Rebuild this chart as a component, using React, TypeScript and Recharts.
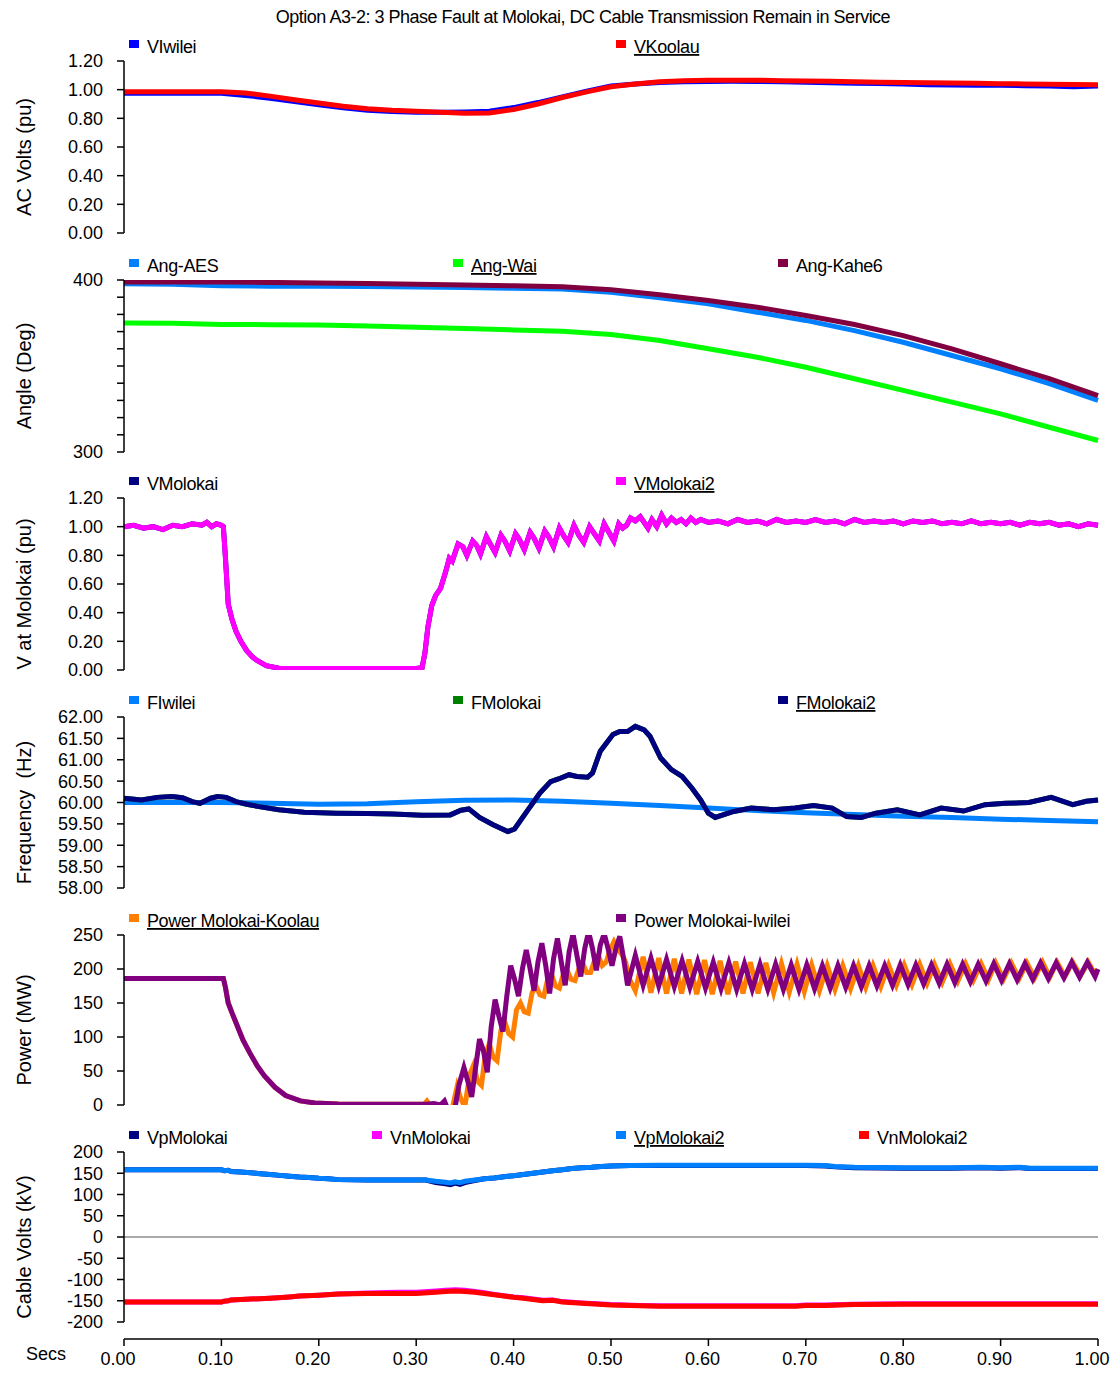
import React from 'react';
import { LineChart, Line, XAxis, YAxis, ReferenceLine } from 'recharts';

const FONT = '"Liberation Sans", Arial, Helvetica, sans-serif';
const W = 1113;
const H = 1373;
const PLOT_LEFT = 124;
const RIGHT_MARGIN = 15;

const TITLE = 'Option A3-2: 3 Phase Fault at Molokai, DC Cable Transmission Remain in Service';
const X_LABEL = 'Secs';

// ---------------- time grids / x ticks ----------------
const tQuarter = [0, 0.025, 0.05, 0.075, 0.1, 0.125, 0.15, 0.175, 0.2, 0.225, 0.25, 0.275, 0.3, 0.325, 0.35, 0.375, 0.4, 0.425, 0.45, 0.475, 0.5, 0.525, 0.55, 0.575, 0.6, 0.625, 0.65, 0.675, 0.7, 0.725, 0.75, 0.775, 0.8, 0.825, 0.85, 0.875, 0.9, 0.925, 0.95, 0.975, 1];
const tHalf = [0, 0.05, 0.1, 0.15, 0.2, 0.25, 0.3, 0.35, 0.4, 0.45, 0.5, 0.55, 0.6, 0.65, 0.7, 0.75, 0.8, 0.85, 0.9, 0.95, 1];
const xTicks = [0, 0.1, 0.2, 0.3, 0.4, 0.5, 0.6, 0.7, 0.8, 0.9, 1.0];

// ---------------- panel 1: AC volts ----------------
const acTicks = [0, 0.2, 0.4, 0.6, 0.8, 1.0, 1.2];
const vIwilei = [0.975, 0.975, 0.975, 0.975, 0.975, 0.96, 0.94, 0.918, 0.895, 0.873, 0.857, 0.848, 0.843, 0.843, 0.845, 0.85, 0.875, 0.91, 0.95, 0.99, 1.025, 1.04, 1.05, 1.055, 1.057, 1.058, 1.057, 1.055, 1.052, 1.048, 1.045, 1.043, 1.04, 1.035, 1.033, 1.03, 1.03, 1.028, 1.025, 1.02, 1.025];
const vKoolau = [0.985, 0.985, 0.985, 0.985, 0.985, 0.977, 0.955, 0.93, 0.907, 0.885, 0.867, 0.856, 0.849, 0.842, 0.835, 0.837, 0.862, 0.9, 0.945, 0.985, 1.02, 1.04, 1.055, 1.062, 1.065, 1.066, 1.066, 1.063, 1.06, 1.058, 1.055, 1.052, 1.05, 1.048, 1.046, 1.044, 1.042, 1.04, 1.038, 1.036, 1.035];

// ---------------- panel 2: angles ----------------
const angTicks = [300, 310, 320, 330, 340, 350, 360, 370, 380, 390, 400];
const angAES = [397.8, 397.5, 396.6, 396.4, 396.3, 396.2, 396.0, 395.7, 395.2, 394.8, 392.9, 389.7, 386.2, 381.3, 376.5, 370.6, 363.8, 356.1, 348.4, 339.7, 330.0];
const angWai = [375.0, 374.8, 374.2, 374.0, 373.8, 373.2, 372.6, 371.8, 371.0, 370.2, 368.3, 364.8, 360.0, 355.1, 349.3, 342.6, 335.8, 329.0, 322.2, 314.4, 306.7];
const angKahe6 = [398.9, 398.9, 398.8, 398.6, 398.2, 397.9, 397.6, 397.1, 396.6, 396.1, 394.3, 391.4, 388.1, 384.2, 379.4, 374.1, 367.7, 360.0, 351.3, 342.6, 332.8];

// ---------------- panel 3: V at Molokai ----------------
const vMolokaiPts: [number, number][] = [
  [0, 1.0], [0.01, 1.01], [0.02, 0.99], [0.03, 1.0], [0.04, 0.98], [0.05, 1.01], [0.06, 1.0], [0.07, 1.02], [0.08, 1.01], [0.085, 1.03], [0.09, 1.0], [0.095, 1.02], [0.1, 1.01],
  [0.102, 1.0], [0.104, 0.8], [0.107, 0.46], [0.111, 0.35], [0.115, 0.27], [0.12, 0.2], [0.126, 0.135], [0.132, 0.09], [0.137, 0.065], [0.146, 0.03], [0.159, 0.012],
  [0.2, 0.01], [0.25, 0.01], [0.3, 0.01], [0.306, 0.015], [0.309, 0.12], [0.312, 0.3], [0.316, 0.45], [0.32, 0.52], [0.325, 0.57], [0.33, 0.68], [0.334, 0.78],
  [0.337, 0.76], [0.343, 0.88], [0.348, 0.86], [0.352, 0.8], [0.358, 0.9], [0.362, 0.87], [0.366, 0.81], [0.372, 0.93], [0.376, 0.88], [0.381, 0.82], [0.387, 0.94],
  [0.391, 0.9], [0.396, 0.83], [0.402, 0.95], [0.406, 0.91], [0.411, 0.84], [0.417, 0.96], [0.421, 0.92], [0.426, 0.85], [0.432, 0.97], [0.436, 0.93], [0.441, 0.86],
  [0.447, 0.99], [0.452, 0.93], [0.456, 0.89], [0.462, 1.01], [0.467, 0.94], [0.472, 0.89], [0.478, 1.0], [0.483, 0.95], [0.488, 0.9], [0.493, 1.02], [0.498, 0.96],
  [0.503, 0.9], [0.508, 1.02], [0.512, 0.99], [0.516, 1.01], [0.52, 1.06], [0.525, 1.04], [0.53, 1.07], [0.534, 1.03], [0.538, 0.99], [0.542, 1.05], [0.547, 1.0],
  [0.552, 1.08], [0.557, 1.02], [0.562, 1.06], [0.567, 1.03], [0.572, 1.05], [0.577, 1.02], [0.582, 1.06], [0.587, 1.03], [0.592, 1.05], [0.6, 1.03],
  [0.61, 1.04], [0.62, 1.02], [0.63, 1.05], [0.64, 1.03], [0.65, 1.04], [0.66, 1.02], [0.67, 1.05], [0.68, 1.03], [0.69, 1.04], [0.7, 1.03], [0.71, 1.05], [0.72, 1.03],
  [0.73, 1.04], [0.74, 1.02], [0.75, 1.05], [0.76, 1.03], [0.77, 1.04], [0.78, 1.03], [0.79, 1.04], [0.8, 1.02], [0.81, 1.04], [0.82, 1.03], [0.83, 1.04], [0.84, 1.02],
  [0.85, 1.03], [0.86, 1.02], [0.87, 1.04], [0.88, 1.02], [0.89, 1.03], [0.9, 1.02], [0.91, 1.03], [0.92, 1.01], [0.93, 1.03], [0.94, 1.02], [0.95, 1.03], [0.96, 1.01],
  [0.97, 1.02], [0.98, 1.0], [0.99, 1.02], [1.0, 1.01],
];
const vMolokai2Pts: [number, number][] = vMolokaiPts;

// ---------------- panel 4: frequency ----------------
const freqTicks = [58, 58.5, 59, 59.5, 60, 60.5, 61, 61.5, 62];
const fIwilei = [60.0, 60.0, 60.0, 59.98, 59.96, 59.97, 60.02, 60.05, 60.06, 60.03, 59.98, 59.93, 59.87, 59.81, 59.76, 59.72, 59.68, 59.65, 59.61, 59.58, 59.55];
const fMolokaiPts: [number, number][] = [
  [0, 60.1], [0.018, 60.06], [0.034, 60.12], [0.049, 60.14], [0.06, 60.11], [0.07, 60.02], [0.078, 59.98], [0.089, 60.1], [0.096, 60.14], [0.105, 60.12],
  [0.115, 60.02], [0.126, 59.96], [0.137, 59.91], [0.159, 59.83], [0.185, 59.77], [0.218, 59.75], [0.25, 59.74], [0.276, 59.73], [0.306, 59.7], [0.335, 59.71],
  [0.346, 59.82], [0.354, 59.85], [0.365, 59.65], [0.379, 59.48], [0.394, 59.32], [0.401, 59.38], [0.416, 59.87], [0.427, 60.22], [0.438, 60.49], [0.446, 60.55],
  [0.457, 60.65], [0.465, 60.61], [0.476, 60.59], [0.481, 60.69], [0.489, 61.2], [0.502, 61.59], [0.509, 61.66], [0.517, 61.66], [0.525, 61.78], [0.534, 61.7],
  [0.54, 61.55], [0.551, 61.04], [0.562, 60.77], [0.573, 60.61], [0.583, 60.34], [0.592, 60.06], [0.6, 59.75], [0.607, 59.65], [0.626, 59.79], [0.644, 59.87],
  [0.667, 59.83], [0.689, 59.87], [0.708, 59.93], [0.727, 59.87], [0.742, 59.67], [0.757, 59.65], [0.772, 59.75], [0.794, 59.83], [0.817, 59.71], [0.839, 59.87],
  [0.862, 59.8], [0.884, 59.95], [0.905, 59.98], [0.929, 60.0], [0.952, 60.12], [0.974, 59.95], [0.988, 60.03], [1.0, 60.06],
];
const fMolokai2Pts: [number, number][] = fMolokaiPts;

// ---------------- panel 5: power ----------------
const pwrTicks = [0, 50, 100, 150, 200, 250];
const pwrKoolauPts: [number, number][] = [
  [0, 186], [0.1, 186], [0.102, 186], [0.104, 174], [0.107, 150], [0.111, 135], [0.115, 121], [0.122, 96], [0.129, 77], [0.137, 57], [0.144, 43], [0.155, 26],
  [0.166, 14], [0.181, 6], [0.196, 3], [0.22, 1.5], [0.25, 1], [0.3, 1], [0.308, 1], [0.311, 6], [0.314, 0], [0.32, -15], [0.33, -30], [0.337, -5], [0.342, 27],
  [0.346, 8], [0.35, -2], [0.355, 45], [0.359, 59], [0.363, 35], [0.367, 29], [0.371, 75], [0.375, 90], [0.379, 70], [0.383, 65], [0.387, 110], [0.391, 122],
  [0.395, 105], [0.399, 100], [0.403, 140], [0.407, 150], [0.411, 137], [0.415, 135], [0.419, 165], [0.423, 175], [0.427, 162], [0.431, 160], [0.435, 185],
  [0.439, 192], [0.443, 175], [0.447, 172], [0.451, 192], [0.455, 198], [0.459, 185], [0.463, 183], [0.467, 200], [0.471, 208], [0.475, 195], [0.479, 195],
  [0.483, 212], [0.487, 220], [0.491, 205], [0.495, 210], [0.499, 228], [0.503, 240], [0.507, 228], [0.511, 222], [0.515, 210], [0.519, 185], [0.525, 168],
  [0.533, 218], [0.541, 165], [0.549, 216], [0.557, 164], [0.565, 215], [0.5725, 164], [0.58, 214], [0.588, 163], [0.596, 213], [0.604, 163], [0.612, 212],
  [0.62, 163], [0.628, 211], [0.6355, 164], [0.643, 210], [0.651, 164], [0.659, 209], [0.667, 165], [0.675, 208], [0.683, 166], [0.691, 207], [0.6985, 167],
  [0.706, 206], [0.714, 168], [0.722, 205], [0.73, 170], [0.738, 205], [0.746, 171], [0.754, 205], [0.7615, 173], [0.769, 205], [0.777, 174], [0.785, 206],
  [0.793, 176], [0.801, 206], [0.809, 177], [0.817, 207], [0.8245, 179], [0.832, 207], [0.84, 180], [0.848, 208], [0.856, 182], [0.864, 208], [0.872, 183],
  [0.88, 208], [0.8875, 184], [0.895, 209], [0.903, 185], [0.911, 209], [0.919, 186], [0.927, 209], [0.935, 187], [0.943, 210], [0.9505, 188], [0.958, 210],
  [0.966, 189], [0.974, 210], [0.982, 190], [0.99, 210], [0.998, 190],
];
const pwrIwileiPts: [number, number][] = [
  [0, 186], [0.1, 186], [0.102, 186], [0.104, 174], [0.107, 150], [0.111, 135], [0.115, 121], [0.122, 96], [0.129, 77], [0.137, 57], [0.144, 43], [0.155, 26],
  [0.166, 14], [0.181, 6], [0.196, 3], [0.22, 1.5], [0.25, 1], [0.3, 1], [0.31, 1], [0.318, 2], [0.325, 0], [0.329, 6], [0.334, -12], [0.34, -3],
  [0.344, 30], [0.349, 55], [0.353, 35], [0.357, 12], [0.361, 55], [0.365, 97], [0.369, 80], [0.373, 48], [0.377, 115], [0.381, 155], [0.385, 130], [0.389, 108],
  [0.393, 160], [0.397, 205], [0.401, 185], [0.405, 160], [0.409, 200], [0.413, 228], [0.417, 200], [0.421, 168], [0.425, 210], [0.429, 238], [0.433, 205],
  [0.437, 164], [0.441, 215], [0.445, 245], [0.449, 210], [0.453, 176], [0.457, 225], [0.461, 252], [0.465, 220], [0.469, 189], [0.473, 230], [0.477, 255],
  [0.481, 230], [0.485, 198], [0.489, 235], [0.493, 252], [0.497, 230], [0.501, 205], [0.505, 230], [0.509, 248], [0.513, 215], [0.517, 176],
  [0.525, 220], [0.533, 176], [0.541, 216], [0.549, 175], [0.557, 214], [0.565, 174], [0.573, 212], [0.581, 173], [0.589, 211], [0.597, 172], [0.605, 210],
  [0.613, 171], [0.621, 209], [0.629, 170], [0.637, 208], [0.645, 170], [0.653, 207], [0.661, 170], [0.669, 207], [0.677, 170], [0.685, 206], [0.693, 170],
  [0.701, 206], [0.709, 171], [0.717, 205], [0.725, 172], [0.733, 205], [0.741, 173], [0.749, 205], [0.757, 174], [0.765, 205], [0.773, 175], [0.781, 205],
  [0.789, 176], [0.797, 206], [0.805, 177], [0.813, 206], [0.821, 178], [0.829, 206], [0.837, 179], [0.845, 207], [0.853, 180], [0.861, 207], [0.869, 181],
  [0.877, 207], [0.885, 182], [0.893, 208], [0.901, 183], [0.909, 208], [0.917, 184], [0.925, 208], [0.933, 185], [0.941, 209], [0.949, 186], [0.957, 209],
  [0.965, 187], [0.973, 210], [0.981, 188], [0.989, 210], [0.997, 189], [1.0, 200],
];

// ---------------- panel 6: cable volts ----------------
const cableTicks = [-200, -150, -100, -50, 0, 50, 100, 150, 200];
const vpMolokaiPts: [number, number][] = [
  [0, 158], [0.1, 158], [0.103, 156], [0.107, 157], [0.11, 154], [0.12, 153], [0.13, 151], [0.14, 149], [0.15, 147], [0.16, 145], [0.17, 143], [0.18, 141],
  [0.19, 140], [0.2, 138], [0.21, 137], [0.22, 135], [0.25, 134], [0.28, 134], [0.31, 134], [0.32, 128], [0.33, 125], [0.335, 123], [0.34, 127], [0.345, 124],
  [0.35, 128], [0.36, 133], [0.37, 137], [0.38, 139], [0.39, 142], [0.4, 144], [0.41, 147], [0.42, 150], [0.43, 153], [0.44, 156], [0.45, 158], [0.46, 161],
  [0.47, 163], [0.48, 164], [0.49, 166], [0.5, 167], [0.52, 168], [0.55, 168], [0.6, 168], [0.65, 168], [0.7, 168], [0.72, 167], [0.73, 165], [0.75, 163],
  [0.8, 162], [0.85, 162], [0.88, 163], [0.9, 162], [0.92, 163], [0.93, 161], [1.0, 161],
];
const vnMolokaiPts: [number, number][] = [
  [0, -153], [0.1, -153], [0.103, -151], [0.107, -150], [0.11, -148], [0.12, -147], [0.13, -146], [0.15, -144], [0.17, -141], [0.18, -139], [0.2, -137],
  [0.22, -134], [0.25, -132], [0.28, -130], [0.3, -130], [0.32, -127], [0.33, -125], [0.34, -124], [0.35, -125], [0.36, -128], [0.37, -131], [0.38, -135],
  [0.39, -138], [0.4, -141], [0.41, -143], [0.42, -146], [0.43, -149], [0.44, -148], [0.45, -152], [0.47, -155], [0.5, -159], [0.53, -161], [0.55, -162],
  [0.6, -162], [0.65, -162], [0.69, -162], [0.7, -160], [0.72, -160], [0.75, -158], [0.8, -157], [0.85, -157], [0.9, -157], [1.0, -157],
];
const vpMolokai2Pts: [number, number][] = [
  [0, 158], [0.1, 158], [0.103, 156], [0.107, 157], [0.11, 154], [0.12, 153], [0.13, 151], [0.14, 149], [0.15, 147], [0.16, 145], [0.17, 143], [0.18, 141],
  [0.19, 140], [0.2, 138], [0.21, 137], [0.22, 135], [0.25, 134], [0.28, 134], [0.31, 134], [0.32, 131], [0.33, 129], [0.335, 127], [0.34, 130], [0.345, 128],
  [0.35, 131], [0.36, 134], [0.37, 137], [0.38, 139], [0.39, 142], [0.4, 144], [0.41, 147], [0.42, 150], [0.43, 153], [0.44, 156], [0.45, 158], [0.46, 161],
  [0.47, 163], [0.48, 164], [0.49, 166], [0.5, 167], [0.52, 168], [0.55, 169], [0.6, 169], [0.65, 169], [0.7, 169], [0.72, 168], [0.73, 166], [0.75, 164],
  [0.8, 163], [0.85, 163], [0.88, 164], [0.9, 163], [0.92, 164], [0.93, 162], [1.0, 162],
];
const vnMolokai2Pts: [number, number][] = [
  [0, -153], [0.1, -153], [0.103, -151], [0.107, -150], [0.11, -148], [0.12, -147], [0.13, -146], [0.15, -144], [0.17, -141], [0.18, -139], [0.2, -137],
  [0.22, -134], [0.25, -133], [0.3, -133], [0.32, -130], [0.33, -128], [0.34, -127], [0.35, -128], [0.36, -130], [0.37, -133], [0.38, -136], [0.39, -139],
  [0.4, -142], [0.41, -144], [0.42, -147], [0.43, -150], [0.44, -149], [0.45, -153], [0.47, -156], [0.5, -160], [0.53, -162], [0.55, -163], [0.6, -163],
  [0.65, -163], [0.69, -163], [0.7, -161], [0.72, -161], [0.75, -159], [0.8, -158], [0.85, -158], [0.9, -158], [1.0, -158],
];

// ---------------- helpers ----------------
const zip = (ts: number[], vs: number[]) => ts.map((t, i) => ({ t, v: vs[i] }));
const pts = (p: [number, number][]) => p.map(([t, v]) => ({ t, v }));
const f2 = (v: number) => v.toFixed(2);
const f0 = (v: number) => String(v);
const fAng = (v: number) => (v === 300 || v === 400 ? String(v) : '');

const COL2 = [129, 616];
const COL3 = [129, 453, 778];
const COL4 = [129, 372, 616, 859];

const panels = [
  {
    key: 'ac', top: 61, bottom: 233, yTitle: 'AC Volts (pu)', domain: [0, 1.2], ticks: acTicks, fmt: f2, cols: COL2,
    series: [
      { name: 'VIwilei', color: '#0000FF', data: zip(tQuarter, vIwilei) },
      { name: 'VKoolau', color: '#FF0000', data: zip(tQuarter, vKoolau), u: true },
    ],
  },
  {
    key: 'ang', top: 280, bottom: 452, yTitle: 'Angle (Deg)', domain: [300, 400], ticks: angTicks, fmt: fAng, cols: COL3,
    series: [
      { name: 'Ang-AES', color: '#0080FF', data: zip(tHalf, angAES) },
      { name: 'Ang-Wai', color: '#00FF00', data: zip(tHalf, angWai), u: true },
      { name: 'Ang-Kahe6', color: '#800040', data: zip(tHalf, angKahe6) },
    ],
  },
  {
    key: 'vm', top: 498, bottom: 670, yTitle: 'V at Molokai (pu)', domain: [0, 1.2], ticks: acTicks, fmt: f2, cols: COL2,
    series: [
      { name: 'VMolokai', color: '#000080', data: pts(vMolokaiPts) },
      { name: 'VMolokai2', color: '#FF00FF', data: pts(vMolokai2Pts), u: true },
    ],
  },
  {
    key: 'fr', top: 717, bottom: 888, yTitle: 'Frequency\u00a0\u00a0(Hz)', domain: [58, 62], ticks: freqTicks, fmt: f2, cols: COL3,
    series: [
      { name: 'FIwilei', color: '#0080FF', data: zip(tHalf, fIwilei) },
      { name: 'FMolokai', color: '#008000', data: pts(fMolokaiPts) },
      { name: 'FMolokai2', color: '#000080', data: pts(fMolokai2Pts), u: true },
    ],
  },
  {
    key: 'pw', top: 935, bottom: 1105, yTitle: 'Power (MW)', domain: [0, 250], ticks: pwrTicks, fmt: f0, cols: COL2,
    series: [
      { name: 'Power Molokai-Koolau', color: '#FF8000', data: pts(pwrKoolauPts), u: true },
      { name: 'Power Molokai-Iwilei', color: '#800080', data: pts(pwrIwileiPts) },
    ],
  },
  {
    key: 'cb', top: 1152, bottom: 1322, yTitle: 'Cable Volts (kV)', domain: [-200, 200], ticks: cableTicks, fmt: f0, cols: COL4, zero: true,
    series: [
      { name: 'VpMolokai', color: '#000080', data: pts(vpMolokaiPts) },
      { name: 'VnMolokai', color: '#FF00FF', data: pts(vnMolokaiPts) },
      { name: 'VpMolokai2', color: '#0080FF', data: pts(vpMolokai2Pts), u: true },
      { name: 'VnMolokai2', color: '#FF0000', data: pts(vnMolokai2Pts) },
    ],
  },
];

const xAxisData = xTicks.map((t) => ({ t }));

function Panel({ p }: { p: any }) {
  const h = p.bottom - p.top;
  const pad = 12;
  return (
    <div style={{ position: 'absolute', left: 0, top: p.top - pad, width: W, height: h + 2 * pad }}>
      <LineChart width={W} height={h + 2 * pad} margin={{ top: pad, bottom: pad, left: 0, right: RIGHT_MARGIN }}>
        <XAxis type="number" dataKey="t" domain={[0, 1]} hide />
        <YAxis
          type="number"
          domain={p.domain}
          ticks={p.ticks}
          interval={0}
          tickFormatter={p.fmt}
          width={PLOT_LEFT}
          allowDataOverflow
          axisLine={{ stroke: '#000', strokeWidth: 1.5 }}
          tickLine={{ stroke: '#000', strokeWidth: 1.5 }}
          tickSize={7}
          tickMargin={14}
          tick={{ fontSize: 18, fill: '#000', fontFamily: FONT }}
        />
        {p.zero && <ReferenceLine y={0} stroke="#8c8c8c" strokeWidth={1.5} />}
        {p.series.map((s: any) => (
          <Line
            key={s.name}
            name={s.name}
            data={s.data}
            dataKey="v"
            type="linear"
            stroke={s.color}
            strokeWidth={5}
            dot={false}
            activeDot={false}
            isAnimationActive={false}
          />
        ))}
      </LineChart>
    </div>
  );
}

const XTick = (props: any) => {
  const { x, y, payload } = props;
  return (
    <text x={x - 6} y={y} dy="0.71em" textAnchor="middle" fontSize={18} fontFamily={FONT} fill="#000">
      {Number(payload.value).toFixed(2)}
    </text>
  );
};

export default function App() {
  return (
    <div style={{ position: 'absolute', left: 0, top: 0, width: W, height: H, background: '#fff', overflow: 'hidden', fontFamily: FONT }}>
      {panels.map((p) => (
        <Panel key={p.key} p={p} />
      ))}
      <div style={{ position: 'absolute', left: 0, top: 1329, width: W, height: 44 }}>
        <LineChart width={W} height={44} data={xAxisData} margin={{ top: 0, bottom: 0, left: PLOT_LEFT, right: RIGHT_MARGIN }}>
          <XAxis
            type="number"
            dataKey="t"
            domain={[0, 1]}
            ticks={xTicks}
            interval={0}
            height={34}
            tickSize={7}
            tickMargin={6}
            axisLine={{ stroke: '#000', strokeWidth: 1.5 }}
            tickLine={{ stroke: '#000', strokeWidth: 1.5 }}
            tick={XTick}
          />
          <YAxis hide domain={[0, 1]} />
        </LineChart>
      </div>
      <svg width={W} height={H} style={{ position: 'absolute', left: 0, top: 0, pointerEvents: 'none' }} fontFamily={FONT}>
        <text x={583} y={23} textAnchor="middle" fontSize={18} letterSpacing={-0.5} fill="#000">
          {TITLE}
        </text>
        {panels.map((p) => {
          const base = p.top - 8;
          const cy = (p.top + p.bottom) / 2 + 10;
          return (
            <g key={p.key}>
              <text transform={`translate(31, ${cy}) rotate(-90)`} textAnchor="middle" fontSize={20} fill="#000">
                {p.yTitle}
              </text>
              {p.series.map((s: any, i: number) => (
                <g key={s.name}>
                  <rect x={p.cols[i]} y={base - 13} width={10} height={8} fill={s.color} />
                  <text
                    x={p.cols[i] + 18}
                    y={base}
                    fontSize={18}
                    letterSpacing={-0.4}
                    fill="#000"
                    style={{ textDecoration: s.u ? 'underline' : 'none' }}
                  >
                    {s.name}
                  </text>
                </g>
              ))}
            </g>
          );
        })}
        <text x={66} y={1360} textAnchor="end" fontSize={18} fill="#000">
          {X_LABEL}
        </text>
      </svg>
    </div>
  );
}
